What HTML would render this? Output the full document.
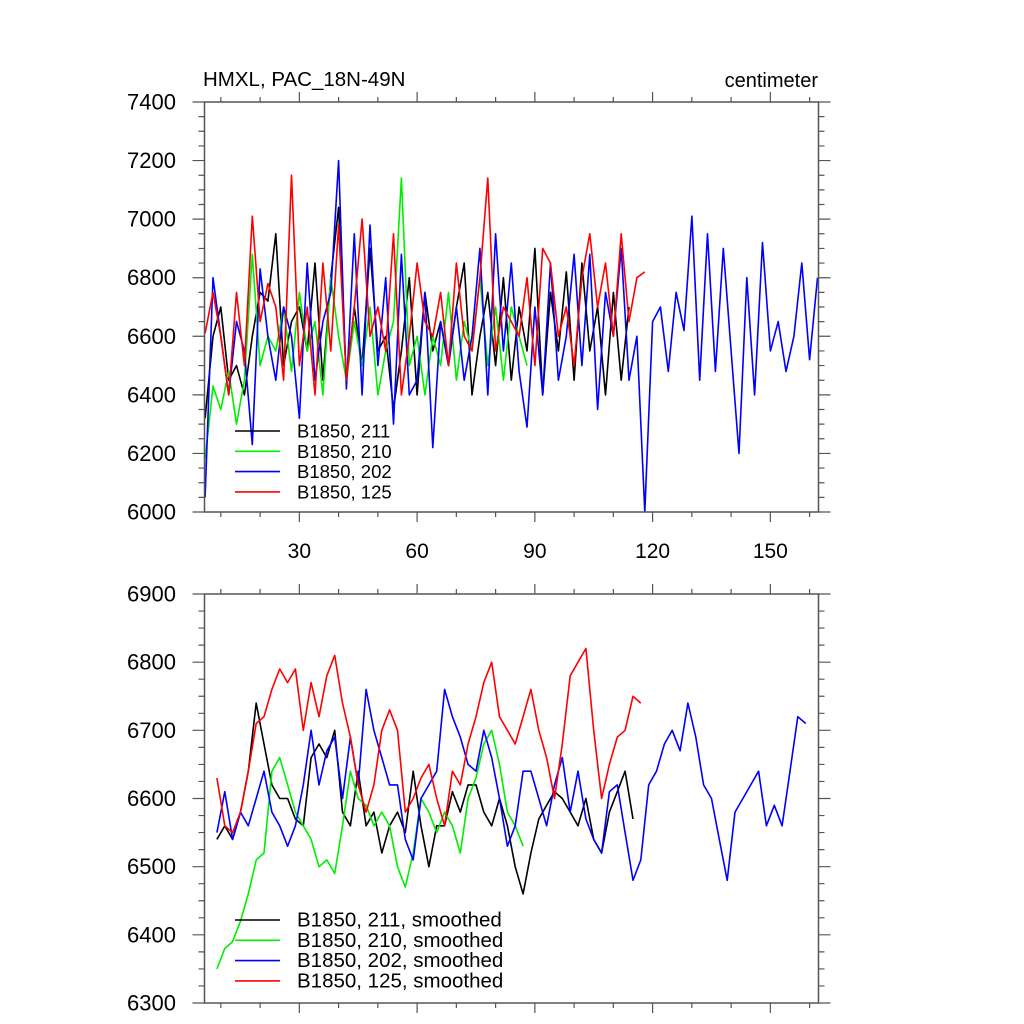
<!DOCTYPE html>
<html><head><meta charset="utf-8"><style>
html,body{margin:0;padding:0;background:#fff;}
svg{display:block;font-family:"Liberation Sans",sans-serif;}
</style></head><body>
<svg id="chart" width="1024" height="1024" viewBox="0 0 1024 1024" xmlns="http://www.w3.org/2000/svg">
<text x="203" y="86" font-size="20.5">HMXL, PAC_18N-49N</text>
<text x="818" y="87" font-size="20" text-anchor="end">centimeter</text>
</svg>
<script>
// ---- data ----
const xTickLabels = [30, 60, 90, 120, 150];
const topYTicks = [6000, 6200, 6400, 6600, 6800, 7000, 7200, 7400];
const botYTicks = [6300, 6400, 6500, 6600, 6700, 6800, 6900];
const seriesNames = ["B1850, 211", "B1850, 210", "B1850, 202", "B1850, 125"];
const seriesColors = ["#000000", "#00ee00", "#0000ff", "#ff0000"];
const topStart = 6, step = 2, botStart = 9;
const top211 = [6320,6600,6700,6450,6500,6400,6600,6750,6720,6950,6500,6650,6700,6550,6850,6450,6800,7040,
 6450,6700,6500,6900,6550,6600,6350,6550,6800,6400,
 6750,6550,6650,6500,6700,6850,6400,6600,6750,6500,
 6800,6450,6700,6550,6900,6400,6750,6550,6820,6450,
 6850,6550,6700,6400,6750,6450,6700];
const top210 = [6180,6430,6350,6480,6300,6450,6880,6500,6600,6550,6700,6480,6750,6550,6650,6400,6800,6600,
 6450,6650,6500,6700,6400,6550,6650,7140,6500,6600,
 6400,6600,6500,6750,6450,6650,6550,6800,6500,6700,
 6450,6700,6600,6500];
const top202 = [6050,6800,6600,6400,6650,6550,6230,6830,6600,6450,6700,6600,6320,6850,6450,6650,6750,7200,
 6420,6950,6400,6980,6500,6800,6300,6880,6400,6450,
 6750,6220,6650,6500,6700,6450,6600,6900,6400,6950,
 6550,6850,6480,6290,6700,6400,6850,6450,6600,6880,
 6500,6880,6350,6750,6600,6900,6450,6600,6000,6650,
 6700,6480,6750,6620,7010,6450,6950,6480,6900,6550,
 6200,6800,6400,6920,6550,6650,6480,6600,6850,6520,6800];
const top125 = [6610,6750,6600,6400,6750,6500,7010,6650,6780,6700,6450,7150,6500,6700,6400,6850,6550,6980,
 6450,6700,7000,6600,6700,6550,6950,6400,6600,6850,
 6650,6600,6750,6500,6850,6600,6550,6800,7140,6550,
 6700,6650,6600,6800,6500,6900,6850,6600,6700,6500,
 6800,6950,6700,6850,6600,6950,6650,6800,6820];
const bot211 = [6540,6560,6540,6580,6640,6740,6680,6620,6600,6600,6570,6560,6660,6680,6660,6700,
 6580,6560,6640,6560,6580,6520,6560,6580,6550,6640,6560,6500,6560,6560,6610,6580,
 6620,6620,6580,6560,6600,6560,6500,6460,6520,6570,6590,6610,6600,6580,6560,6600,
 6540,6520,6580,6610,6640,6570];
const bot210 = [6350,6380,6390,6420,6460,6510,6520,6640,6660,6620,6580,6560,6540,6500,6510,6490,
 6560,6640,6600,6590,6560,6580,6560,6500,6470,6520,6600,6580,6550,6580,6560,6520,
 6600,6630,6680,6700,6650,6580,6560,6530];
const bot202 = [6550,6610,6540,6580,6560,6600,6640,6580,6560,6530,6560,6620,6700,6620,6670,6690,
 6600,6690,6620,6760,6700,6660,6620,6620,6540,6510,6600,6620,6640,6760,6720,6690,
 6650,6640,6700,6660,6600,6530,6560,6640,6640,6600,6560,6620,6660,6580,6640,6570,
 6540,6520,6610,6620,6550,6480,6510,6620,6640,6680,6700,6670,6740,6690,6620,6600,
 6540,6480,6580,6600,6620,6640,6560,6590,6560,6640,6720,6710];
const bot125 = [6630,6560,6550,6580,6640,6710,6720,6760,6790,6770,6790,6700,6770,6720,6780,6810,
 6740,6690,6620,6580,6620,6700,6730,6700,6580,6600,6630,6650,6600,6560,6640,6620,
 6680,6720,6770,6800,6720,6700,6680,6720,6760,6700,6660,6600,6680,6780,6800,6820,
 6700,6600,6650,6690,6700,6750,6740];

const svg = document.getElementById('chart');
const NS = 'http://www.w3.org/2000/svg';
const L = 204.5, R = 818.5;
const x0 = 181.6, pxPerUnit = 3.925;
function xs(u){ return x0 + u*pxPerUnit; }
function mk(tag, attrs){ const e=document.createElementNS(NS,tag); for(const k in attrs) e.setAttribute(k,attrs[k]); svg.appendChild(e); return e; }

function panel(name, T, B, ymin, ymax, yTicks, yMinorStep, showXLabels, series, start, legendY, suffix, legendFont){
  const ys = v => B - (v-ymin)/(ymax-ymin)*(B-T);
  let d = '';
  for(let u=10; u<=160; u+=10){
    const x=xs(u); const len = (u%30===0)?10:5;
    d += `M${x},${B}V${B+len}M${x},${T}V${T-len}`;
  }
  for(let v=ymin; v<=ymax+0.01; v+=yMinorStep){
    const y=ys(v); const len = yTicks.some(t=>Math.abs(t-v)<0.01)?12:6;
    d += `M${L},${y}H${L-len}M${R},${y}H${R+len}`;
  }
  const tk = mk('path',{d:d,stroke:'#555','stroke-width':1.2,fill:'none'});
  
  
  yTicks.forEach(v=>{
    const t=mk('text',{x:176,y:ys(v)+7.5,'font-size':22,'text-anchor':'end'});
    t.textContent=v;
    
    
  });
  if(showXLabels){
    xTickLabels.forEach(v=>{
      const t=mk('text',{x:xs(v),y:B+46,'font-size':21,'text-anchor':'middle'});
      t.textContent=v;
      
      
    });
  }
  const cid = name+'-clip';
  const cp = mk('clipPath',{id:cid}); const cr=document.createElementNS(NS,'rect');
  cr.setAttribute('x',L);cr.setAttribute('y',T);cr.setAttribute('width',R-L);cr.setAttribute('height',B-T);cp.appendChild(cr);
  series.forEach((vals,si)=>{
    const pts = vals.map((v,i)=>xs(start+i*step).toFixed(1)+','+ys(v).toFixed(1)).join(' ');
    const pl = mk('polyline',{points:pts,fill:'none',stroke:seriesColors[si],'stroke-width':1.6,'clip-path':`url(#${cid})`,'stroke-linejoin':'round'});
    
    
  });
  const fr = mk('rect',{x:L,y:T,width:R-L,height:B-T,fill:'none',stroke:'#555','stroke-width':1.5});
  
  
  seriesNames.forEach((n,si)=>{
    const y = legendY + si*20.3;
    const ln = mk('line',{x1:235,x2:280,y1:y,y2:y,stroke:seriesColors[si],'stroke-width':1.6});
    
    
    const t = mk('text',{x:297,y:y+6.5,'font-size':legendFont});
    t.textContent = n + suffix;
    
    
  });
}
panel('top-panel', 102, 512, 6000, 7400, topYTicks, 50, true, [top211, top210, top202, top125], topStart, 431, '', 18.5);
panel('bottom-panel', 594, 1003, 6300, 6900, botYTicks, 25, false, [bot211, bot210, bot202, bot125], botStart, 920, ', smoothed', 20.5);
</script>
</body></html>
